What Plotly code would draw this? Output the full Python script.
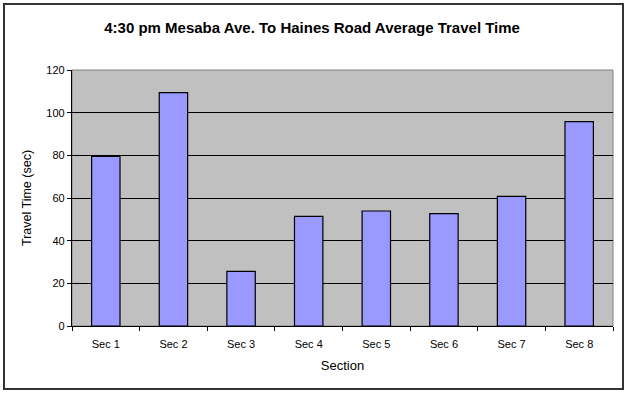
import plotly.graph_objects as go

categories = ["Sec 1", "Sec 2", "Sec 3", "Sec 4", "Sec 5", "Sec 6", "Sec 7", "Sec 8"]
travel_time = [79.5, 109.4, 25.6, 51.4, 53.9, 52.7, 60.8, 95.8]
y_ticks = [0, 20, 40, 60, 80, 100, 120]

W, H = 628, 394
L, R, T, B = 72, 15, 70, 68
pw = W - L - R
ph = H - T - B

def px_x(x):
    return (x - L) / pw

def px_y(y):
    return (H - B - y) / ph

fig = go.Figure()
fig.add_trace(go.Bar(
    x=categories, y=travel_time,
    marker=dict(color="#9999FF", line=dict(color="black", width=1.2)),
    width=0.42,
))

fig.update_layout(
    width=W, height=H,
    margin=dict(l=L, r=R, t=T, b=B),
    paper_bgcolor="white",
    plot_bgcolor="#C0C0C0",
    showlegend=False,
    font=dict(family="Liberation Sans, Arial, sans-serif", size=11, color="black"),
    title=dict(text="<b>4:30 pm Mesaba Ave. To Haines Road Average Travel Time</b>",
               x=0.497, xanchor="center", y=1 - 28 / H, yanchor="middle",
               font=dict(size=15, color="black")),
    xaxis=dict(
        title=dict(text="Section", font=dict(size=13), standoff=11),
        showgrid=False, tickson="boundaries", ticks="outside", ticklen=4,
        tickcolor="black", showline=True, linecolor="black", linewidth=1.2,
        tickfont=dict(size=11), ticklabelstandoff=8,
    ),
    yaxis=dict(
        title=dict(text="Travel Time (sec)", font=dict(size=12.5), standoff=11),
        range=[0, 120], tickvals=y_ticks, showgrid=True, gridcolor="black",
        gridwidth=1, ticks="outside", ticklen=4, tickcolor="black",
        showline=True, linecolor="black", linewidth=1.2, zeroline=False,
        tickfont=dict(size=11),
    ),
    shapes=[
        dict(type="rect", xref="paper", yref="paper", x0=0, x1=1, y0=0, y1=1,
             line=dict(color="#808080", width=1), layer="below"),
        dict(type="rect", xref="paper", yref="paper",
             x0=px_x(4), x1=px_x(623), y0=px_y(389), y1=px_y(4),
             line=dict(color="#333333", width=2)),
    ],
)

fig.write_html("out.html", config={"displayModeBar": False},
               post_script="document.body.style.margin='0';document.body.style.overflow='hidden';")
